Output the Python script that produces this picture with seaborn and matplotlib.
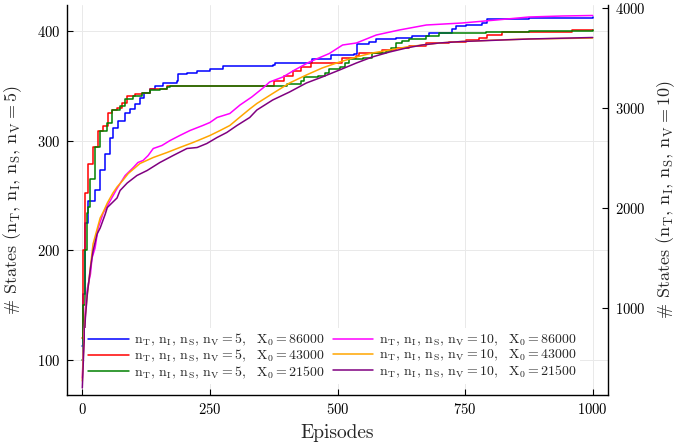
import matplotlib
matplotlib.use("Agg")
import matplotlib.pyplot as plt
import seaborn as sns
import pandas as pd

# ---- data ----
labels = [
    r"$\mathrm{n_T,\, n_I,\, n_S,\, n_V} = 5,\ \ \mathrm{X_0} = 86000$",
    r"$\mathrm{n_T,\, n_I,\, n_S,\, n_V} = 5,\ \ \mathrm{X_0} = 43000$",
    r"$\mathrm{n_T,\, n_I,\, n_S,\, n_V} = 5,\ \ \mathrm{X_0} = 21500$",
    r"$\mathrm{n_T,\, n_I,\, n_S,\, n_V} = 10,\ \ \mathrm{X_0} = 86000$",
    r"$\mathrm{n_T,\, n_I,\, n_S,\, n_V} = 10,\ \ \mathrm{X_0} = 43000$",
    r"$\mathrm{n_T,\, n_I,\, n_S,\, n_V} = 10,\ \ \mathrm{X_0} = 21500$",
]

blue_x = [0, 2, 6, 12, 16, 25, 35, 45, 55, 60, 70, 84, 94, 103, 113, 120, 133, 143, 156, 158,
          185, 188, 205, 225, 250, 275, 373, 377, 445, 451, 488, 533, 539, 562, 576, 615, 646,
          680, 719, 725, 732, 752, 783, 793, 822, 875, 1000]
blue_y = [113, 160, 225, 245, 245, 255, 273, 288, 303, 312, 318, 325, 329, 334, 339, 344, 347, 350, 350, 353,
          355, 361, 362, 364, 366, 368, 369, 371, 371, 375, 378, 379, 388, 390, 393, 394, 396,
          398, 398, 402, 405, 406, 408, 411, 411, 412, 413]

red_x = [0, 2, 6, 12, 21, 31, 41, 51, 58, 68, 78, 88, 103, 117, 133, 152, 166, 371, 375, 387,
         396, 412, 429, 449, 498, 508, 537, 543, 582, 588, 615, 641, 674, 719, 752, 777, 793, 820,
         822, 881, 959, 1000]
red_y = [120, 200, 252, 279, 294, 309, 314, 325, 328, 330, 335, 341, 343, 344, 347, 347, 350, 350, 355, 355,
         359, 364, 367, 371, 371, 376, 377, 380, 380, 383, 385, 387, 389, 390, 392, 394, 397, 397,
         399, 399, 401, 401]

green_x = [0, 2, 5, 9, 12, 16, 25, 35, 49, 58, 74, 84, 100, 117, 133, 152, 166, 172, 400, 402,
           429, 435, 461, 475, 484, 504, 514, 523, 550, 568, 596, 605, 615, 627, 641, 674, 699, 758,
           791, 875, 1000]
green_y = [100, 150, 200, 234, 240, 265, 294, 309, 316, 328, 332, 338, 341, 344, 346, 347, 349, 350, 350, 352,
           355, 358, 359, 362, 366, 367, 371, 375, 376, 380, 382, 385, 389, 391, 393, 396, 398, 398,
           399, 400, 401]

magenta_x = [0, 3, 6, 10, 16, 19, 25, 31, 41, 55, 68, 84, 100, 109, 119, 129, 139, 156, 172, 191,
             211, 236, 250, 264, 289, 309, 332, 354, 367, 393, 416, 445, 484, 510, 537, 576, 621, 674,
             744, 811, 875, 940, 1000]
magenta_y = [300, 700, 1000, 1200, 1340, 1500, 1600, 1800, 1950, 2075, 2195, 2325, 2405, 2455, 2475, 2525,
             2595, 2625, 2675, 2725, 2775, 2825, 2855, 2905, 2945, 3030, 3110, 3200, 3260, 3310, 3380,
             3460, 3545, 3630, 3650, 3730, 3780, 3830, 3850, 3880, 3910, 3920, 3925]

orange_x = [0, 3, 6, 9, 21, 35, 41, 49, 60, 68, 80, 90, 113, 139, 166, 191, 217, 236, 250, 270,
            289, 309, 328, 342, 373, 406, 439, 470, 504, 537, 568, 602, 635, 666, 699, 744, 811, 875, 1000]
orange_y = [270, 650, 930, 1100, 1640, 1900, 1960, 2050, 2150, 2210, 2280, 2345, 2445, 2505, 2555, 2605,
            2655, 2695, 2725, 2775, 2825, 2910, 2990, 3045, 3145, 3250, 3330, 3400, 3460, 3510, 3550,
            3580, 3610, 3630, 3650, 3665, 3680, 3690, 3700]

purple_x = [0, 3, 6, 10, 16, 21, 29, 35, 45, 49, 68, 74, 88, 107, 127, 152, 178, 205, 225, 244,
            264, 283, 303, 328, 342, 373, 406, 439, 470, 504, 537, 568, 602, 635, 666, 699, 744, 875, 1000]
purple_y = [200, 600, 900, 1150, 1400, 1570, 1740, 1800, 1940, 2005, 2100, 2175, 2250, 2325, 2375, 2455,
            2525, 2595, 2605, 2645, 2705, 2755, 2825, 2905, 2980, 3080, 3160, 3250, 3310, 3380, 3450,
            3510, 3560, 3600, 3630, 3650, 3665, 3690, 3705]

x_ticks = [0, 250, 500, 750, 1000]
left_ticks = [100, 200, 300, 400]
right_ticks = [1000, 2000, 3000, 4000]

colors = ["#0000ff", "#ff0000", "#008000", "#ff00ff", "#ffa500", "#800080"]

# ---- style ----
sns.set_theme(style="white")
plt.rcParams["font.family"] = ["cmr10", "DejaVu Serif"]
plt.rcParams["mathtext.fontset"] = "cm"
plt.rcParams["axes.formatter.use_mathtext"] = True
plt.rcParams["axes.unicode_minus"] = False

fig = plt.figure(figsize=(6.78, 4.43), dpi=100)
ax = fig.add_axes([67 / 678, 1 - 395 / 443, (608 - 67) / 678, 390 / 443])
ax2 = ax.twinx()

left_series = [(blue_x, blue_y), (red_x, red_y), (green_x, green_y)]
right_series = [(magenta_x, magenta_y), (orange_x, orange_y), (purple_x, purple_y)]

for i, (xs, ys) in enumerate(left_series):
    df = pd.DataFrame({"Episodes": xs, "States": ys})
    sns.lineplot(data=df, x="Episodes", y="States", ax=ax, color=colors[i], lw=1.1,
                 estimator=None, sort=False, drawstyle="steps-post", label=labels[i], legend=False)
for i, (xs, ys) in enumerate(right_series):
    df = pd.DataFrame({"Episodes": xs, "States": ys})
    sns.lineplot(data=df, x="Episodes", y="States", ax=ax2, color=colors[i + 3], lw=1.1,
                 estimator=None, sort=False, label=labels[i + 3], legend=False)

ax.set_xlim(-30, 1030)
ax.set_ylim(68, 424)
ax2.set_ylim(130, 4030)
ax.set_xticks(x_ticks)
ax.set_yticks(left_ticks)
ax2.set_yticks(right_ticks)

ax.grid(True, color="#e9e9e9", lw=0.7)
ax2.grid(False)

for a in (ax, ax2):
    a.spines["top"].set_visible(False)
    for s in ("left", "right", "bottom"):
        a.spines[s].set_color("black")
        a.spines[s].set_linewidth(1.0)
ax.spines["right"].set_visible(False)
ax2.spines["left"].set_visible(False)
ax2.spines["bottom"].set_visible(False)

ax.tick_params(axis="both", direction="in", length=4, width=0.8, colors="black",
               labelsize=10.5, pad=5, left=True, bottom=True)
ax2.tick_params(axis="y", direction="in", length=4, width=0.8, colors="black",
                labelsize=10.5, pad=5, right=True)

ax.set_xlabel("Episodes", fontsize=14, labelpad=5)
ax.set_ylabel(r"$\#$ States $(\mathrm{n_T,\, n_I,\, n_S,\, n_V} = 5)$", fontsize=13, labelpad=9)
ax2.set_ylabel(r"$\#$ States $(\mathrm{n_T,\, n_I,\, n_S,\, n_V} = 10)$", fontsize=13, labelpad=6)

h1, l1 = ax.get_legend_handles_labels()
h2, l2 = ax2.get_legend_handles_labels()
leg = ax2.legend(h1 + h2, l1 + l2, loc="lower left", bbox_to_anchor=(0.02, 0.01), ncol=2,
                 fontsize=10, frameon=True, framealpha=1.0, edgecolor="white",
                 handlelength=2.9, labelspacing=0.0, columnspacing=0.6, borderpad=0.25,
                 handletextpad=0.4, fancybox=False)
leg.get_frame().set_linewidth(0)

fig.savefig("out.png", dpi=100)
